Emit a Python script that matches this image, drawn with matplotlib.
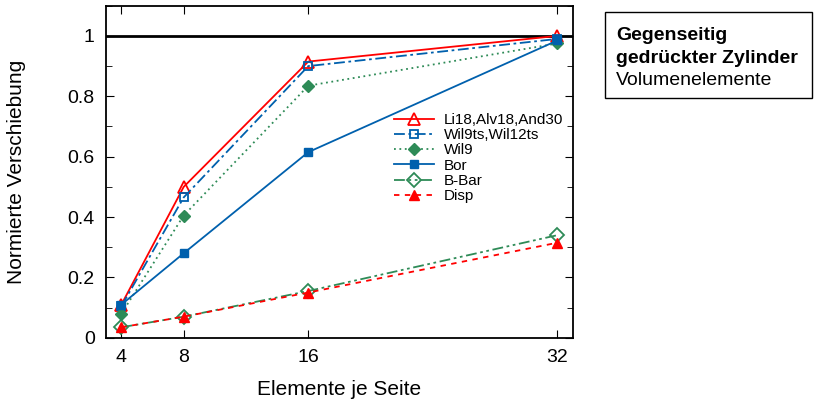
import matplotlib.pyplot as plt
from matplotlib.ticker import MultipleLocator

plt.rcParams['font.family'] = ['Liberation Sans', 'DejaVu Sans']

# Elements per side and normalised displacement for each formulation
elements = [4, 8, 16, 32]
li18 = [0.11, 0.50, 0.915, 1.0]
wil9ts = [0.105, 0.465, 0.90, 0.99]
wil9 = [0.08, 0.405, 0.835, 0.975]
bor = [0.11, 0.28, 0.615, 0.985]
bbar = [0.035, 0.07, 0.155, 0.34]
disp = [0.035, 0.07, 0.15, 0.315]

yticks = [0, 0.2, 0.4, 0.6, 0.8, 1.0]
ytick_labels = ['0', '0.2', '0.4', '0.6', '0.8', '1']

red = '#ff0000'
blue = '#0060ad'
green = '#2e8b57'

fig = plt.figure(figsize=(8.14, 4.07), dpi=100)
ax = fig.add_axes([0.130, 0.170, 0.574, 0.816])

ax.axhline(1.0, color='black', lw=2, zorder=1)

ax.plot(elements, li18, color=red, lw=1.3, marker='^', ms=8, mfc='none', mew=1.3,
        label='Li18,Alv18,And30')
ax.plot(elements, wil9ts, color=blue, lw=1.3, ls=(0, (6, 2, 1.5, 2)), marker='s', ms=6,
        mfc='none', mew=1.3, label='Wil9ts,Wil12ts')
ax.plot(elements, wil9, color=green, lw=1.3, ls=(0, (1, 2)), marker='D', ms=6,
        label='Wil9')
ax.plot(elements, bor, color=blue, lw=1.3, marker='s', ms=6, label='Bor')
ax.plot(elements, bbar, color=green, lw=1.3, ls=(0, (6, 2, 1.5, 2, 1.5, 2)), marker='D',
        ms=7, mfc='none', mew=1.3, label='B-Bar')
ax.plot(elements, disp, color=red, lw=1.3, ls=(0, (3, 3)), marker='^', ms=7,
        label='Disp')

ax.set_xlim(3, 33)
ax.set_ylim(0, 1.1)
ax.set_xticks(elements)
ax.set_yticks(yticks, ytick_labels)
ax.yaxis.set_minor_locator(MultipleLocator(0.1))
ax.tick_params(which='both', direction='in', top=True, right=True, labelsize=14)
ax.tick_params(which='major', length=6, pad=8)
ax.tick_params(which='minor', length=4)
for s in ax.spines.values():
    s.set_linewidth(1.3)

ax.set_xlabel('Elemente je Seite', fontsize=15, labelpad=10)
ax.set_ylabel('Normierte Verschiebung', fontsize=15, labelpad=30)

ax.legend(loc='upper left', bbox_to_anchor=(0.6, 0.70), frameon=False, fontsize=11,
          handlelength=2.6, handletextpad=0.7, labelspacing=0.08, borderpad=0)

fig.text(0.757, 0.902, 'Gegenseitig', fontsize=14, fontweight='bold', va='baseline')
fig.text(0.757, 0.845, 'gedrückter Zylinder', fontsize=14, fontweight='bold',
         va='baseline')
fig.text(0.757, 0.791, 'Volumenelemente', fontsize=14, va='baseline')
box = plt.Rectangle((0.743, 0.759), 0.255, 0.212, transform=fig.transFigure,
                    fill=False, edgecolor='black', lw=1)
fig.add_artist(box)

fig.savefig('out.png', dpi=100)
